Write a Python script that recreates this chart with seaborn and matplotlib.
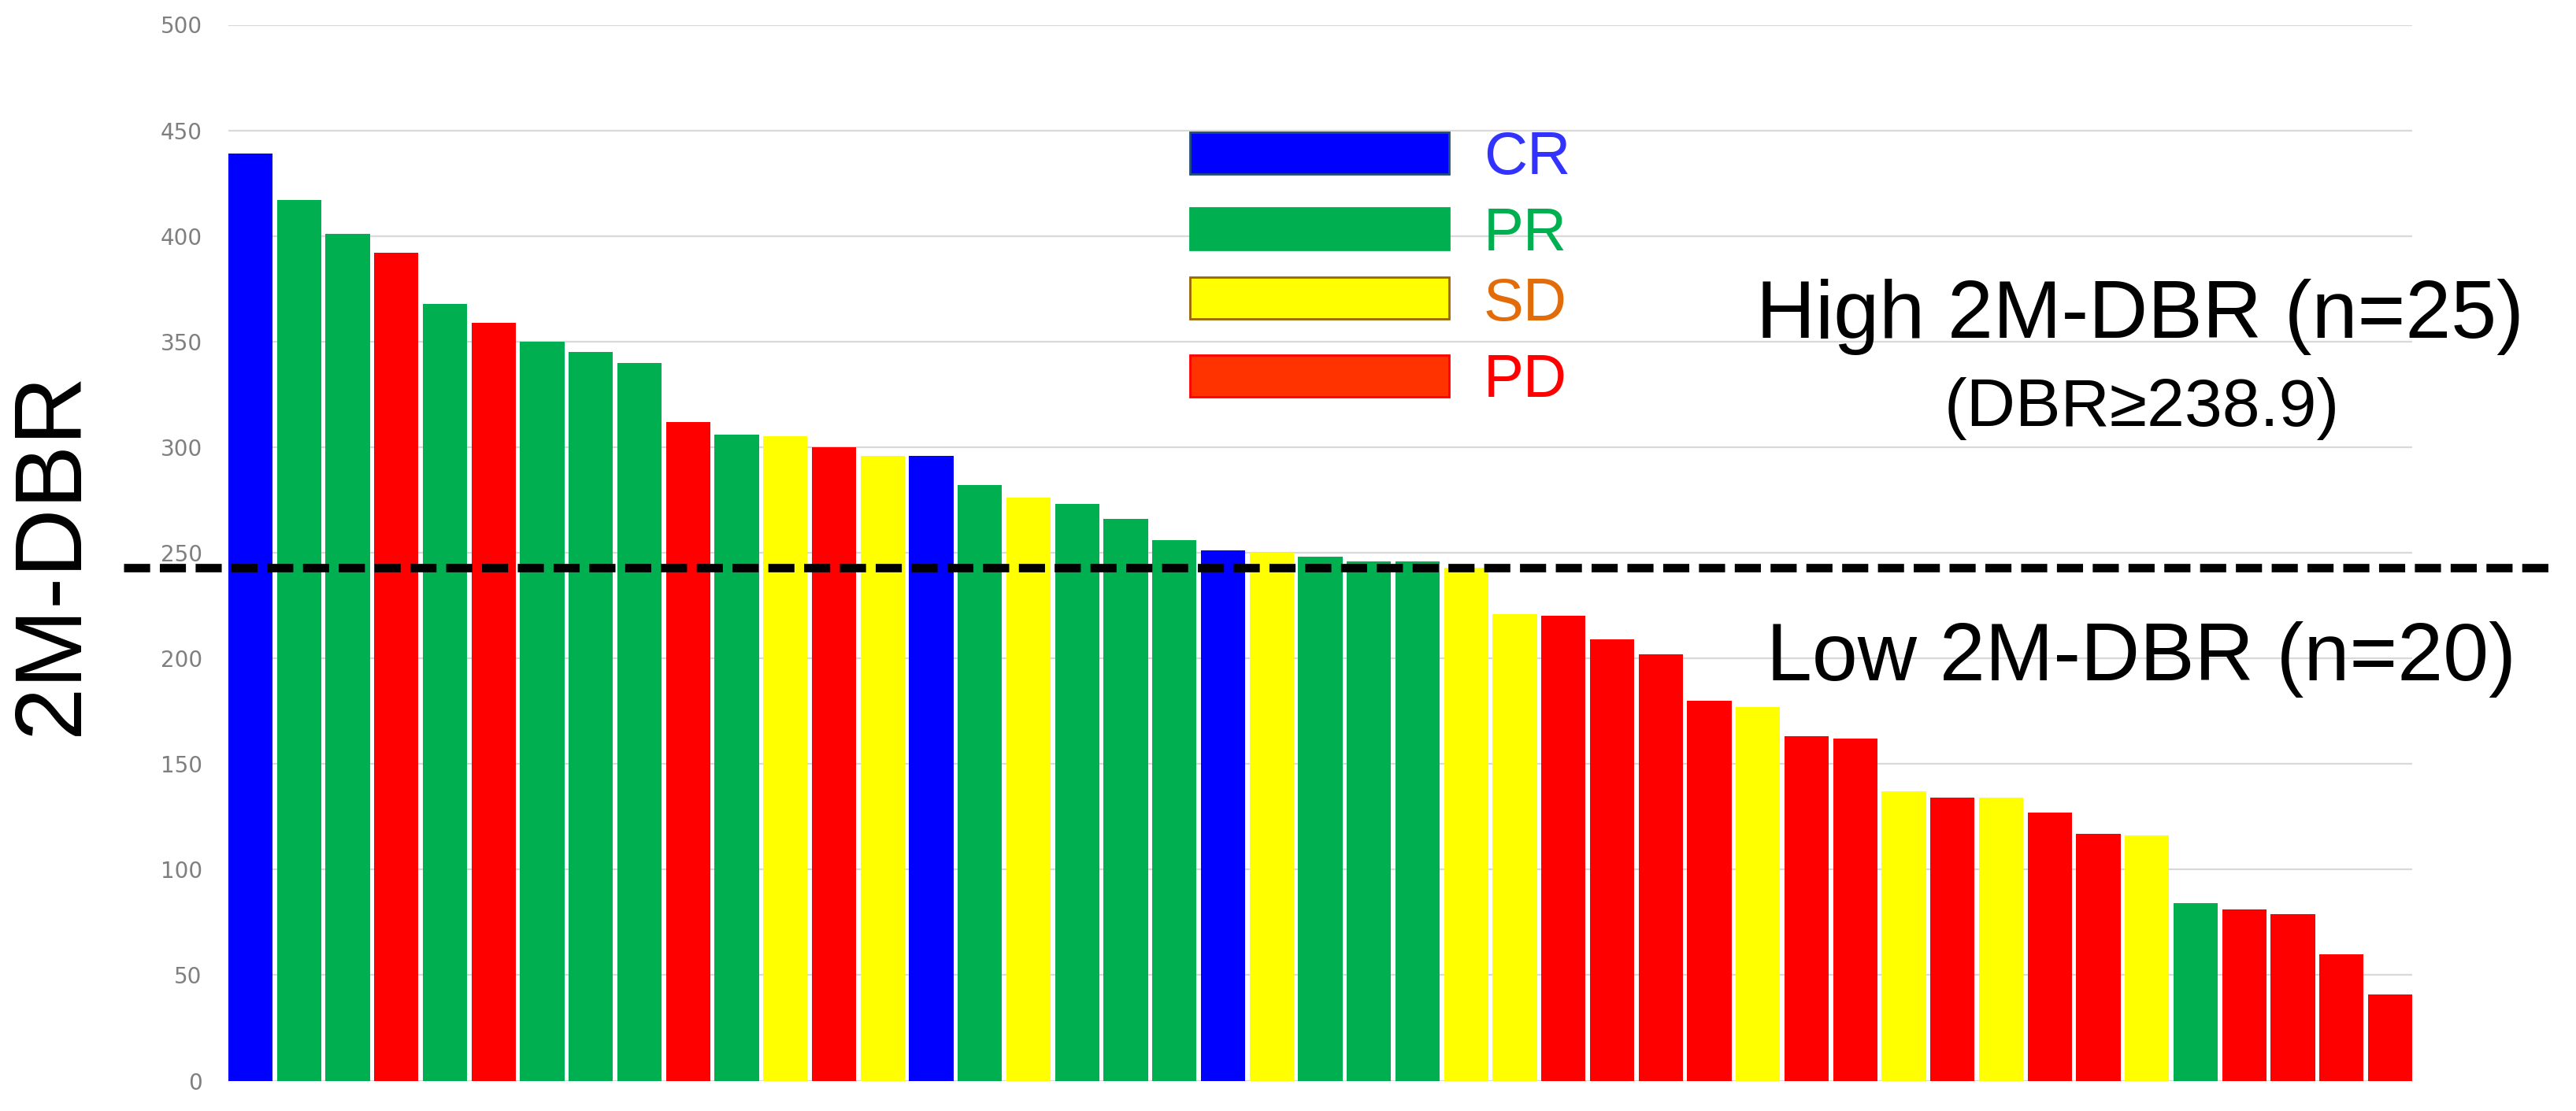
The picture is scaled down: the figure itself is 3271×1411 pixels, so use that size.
import matplotlib
matplotlib.use("Agg")
import matplotlib.pyplot as plt
from matplotlib.patches import Rectangle
import pandas as pd
import seaborn as sns

# valores (ordenados de mayor a menor)
dbr = [439, 417, 401, 392, 368, 359, 350, 345, 340, 312,
       306, 305, 300, 296, 296, 282, 276, 273, 266, 256,
       251, 250, 248, 246, 246, 243, 221, 220, 209, 202,
       180, 177, 163, 162, 137, 134, 134, 127, 117, 116,
       84, 81, 79, 60, 41]
respuesta = ["CR", "PR", "PR", "PD", "PR", "PD", "PR", "PR", "PR", "PD",
             "PR", "SD", "PD", "SD", "CR", "PR", "SD", "PR", "PR", "PR",
             "CR", "SD", "PR", "PR", "PR", "SD", "SD", "PD", "PD", "PD",
             "PD", "SD", "PD", "PD", "SD", "PD", "SD", "PD", "PD", "SD",
             "PR", "PD", "PD", "PD", "PD"]
categorias = ["CR", "PR", "SD", "PD"]
colores = {"CR": "#0000FF", "PR": "#00B050", "SD": "#FFFF00", "PD": "#FF0000"}
color_leyenda = {"CR": "#0000FF", "PR": "#00B050", "SD": "#FFFF00", "PD": "#FF3300"}
borde_leyenda = {"CR": "#1F4E79", "PR": "#00B050", "SD": "#9C6500", "PD": "#FF0000"}
color_texto = {"CR": "#3333FF", "PR": "#00B050", "SD": "#E26B0A", "PD": "#FF0000"}
umbral = 243
yticks = list(range(0, 501, 50))

datos = pd.DataFrame({"paciente": range(len(dbr)), "DBR": dbr, "Respuesta": respuesta})

sns.set_style("white")
plt.rcParams['font.family'] = ['Liberation Sans', 'DejaVu Sans']
plt.rcParams['text.color'] = 'black'
plt.rcParams['axes.labelcolor'] = 'black'

W, H = 3271, 1411
fig = plt.figure(figsize=(W / 100, H / 100), dpi=100)
ax = fig.add_axes([290 / W, 1 - 1372.5 / H, 2773 / W, 1341 / H])

ancho = 0.91
sns.barplot(data=datos, x="paciente", y="DBR", hue="Respuesta", palette=colores,
            dodge=False, width=ancho, saturation=1, legend=False,
            edgecolor="none", ax=ax)

ax.set_xlim(-ancho / 2, len(dbr) - 1 + ancho / 2)
ax.set_ylim(0, 500)
ax.set_yticks(yticks)
ax.set_yticklabels([str(t) for t in yticks], fontsize=20, color="#7F7F7F",
                   family="DejaVu Sans")
ax.tick_params(axis="y", length=0, pad=24)
ax.set_xticks([])
ax.set_xlabel("")
ax.yaxis.grid(True, color="#D9D9D9", linewidth=1.6)
ax.set_axisbelow(True)
for s in ax.spines.values():
    s.set_visible(False)

ax.set_ylabel("2M-DBR", fontsize=87, va="center", color="black")
ax.yaxis.set_label_coords(-0.0804, 0.5)

# linea de corte
ax.axhline(umbral, xmin=-0.048, xmax=1.066, color="black", linewidth=7.7,
           linestyle=(0, (3.1, 1.15)), clip_on=False, zorder=5)

# leyenda hecha a mano
y_centros = [194, 290, 379, 477]
for cat, yc in zip(categorias, y_centros):
    fig.add_artist(Rectangle((1511 / W, 1 - (yc + 26.5) / H), 329 / W, 53 / H,
                             facecolor=color_leyenda[cat], edgecolor=borde_leyenda[cat],
                             linewidth=2, transform=fig.transFigure))
    fig.text(1884 / W, 1 - (yc + 27.5) / H, cat, fontsize=55, color=color_texto[cat],
             va="baseline", ha="left")

fig.text(3205 / W, 1 - 429 / H, "High 2M-DBR (n=25)", fontsize=75, ha="right", va="baseline")
fig.text(2720 / W, 1 - 541 / H, "(DBR≥238.9)", fontsize=62, ha="center", va="baseline")
fig.text(3195 / W, 1 - 864 / H, "Low 2M-DBR (n=20)", fontsize=75, ha="right", va="baseline")

fig.savefig("out.png", dpi=100, facecolor="white")
